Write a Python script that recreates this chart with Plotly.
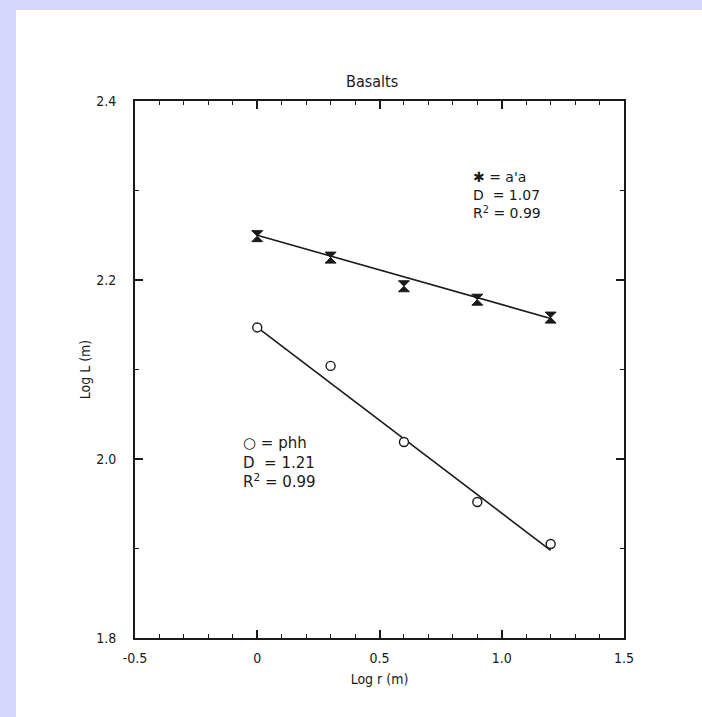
import plotly.graph_objects as go

# Data
log_r = [0.0, 0.3, 0.6, 0.9, 1.2]
aa_logL = [2.249, 2.225, 2.193, 2.178, 2.158]
phh_logL = [2.147, 2.104, 2.019, 1.952, 1.905]

fit_x = [0.0, 1.2]
aa_fit = [2.250, 2.157]
phh_fit = [2.147, 1.898]

x_tickvals = [-0.5, 0.0, 0.5, 1.0, 1.5]
x_ticktext = ["-0.5", "0", "0.5", "1.0", "1.5"]
y_tickvals = [1.8, 2.0, 2.2, 2.4]
y_ticktext = ["1.8", "2.0", "2.2", "2.4"]

FONT = "DejaVu Sans Condensed, Liberation Sans Narrow, DejaVu Sans, sans-serif"
NOTE_FONT = "DejaVu Sans, sans-serif"
INK = "#1a1a1a"
LAVENDER = "#d6d6fa"

fig = go.Figure()

fig.add_trace(go.Scatter(x=fit_x, y=aa_fit, mode="lines",
                         line=dict(color=INK, width=1.6), showlegend=False, hoverinfo="skip"))
fig.add_trace(go.Scatter(x=fit_x, y=phh_fit, mode="lines",
                         line=dict(color=INK, width=1.6), showlegend=False, hoverinfo="skip"))
fig.add_trace(go.Scatter(x=log_r, y=aa_logL, mode="markers", name="a'a",
                         marker=dict(symbol="hourglass", size=11, color=INK,
                                     line=dict(color=INK, width=1)),
                         showlegend=False))
fig.add_trace(go.Scatter(x=log_r, y=phh_logL, mode="markers", name="phh",
                         marker=dict(symbol="circle", size=9, color="white",
                                     line=dict(color=INK, width=1.4)),
                         showlegend=False))

W, H = 702, 717
L, R, T, B = 135, 78, 101, 79
pw, ph = W - L - R, H - T - B

def px_x(p):
    return (p - L) / pw

def px_y(p):
    return (H - B - p) / ph

# lavender frame bands (top and left) around the white page
fig.add_shape(type="rect", xref="paper", yref="paper", layer="below",
              x0=px_x(-20), x1=px_x(W + 20), y0=px_y(10), y1=px_y(-20),
              fillcolor=LAVENDER, line=dict(width=0))
fig.add_shape(type="rect", xref="paper", yref="paper", layer="below",
              x0=px_x(-20), x1=px_x(16), y0=px_y(H + 20), y1=px_y(-20),
              fillcolor=LAVENDER, line=dict(width=0))

fig.add_annotation(xref="paper", yref="paper", x=px_x(372), y=px_y(82),
                   xanchor="center", yanchor="middle",
                   text="Basalts", showarrow=False,
                   font=dict(family=FONT, size=16, color=INK))

fig.add_annotation(x=0.875, y=2.326, xanchor="left", yanchor="top", align="left",
                   text="✱ = a'a<br>D&nbsp;&nbsp;= 1.07<br>R<sup>2</sup> = 0.99", showarrow=False,
                   font=dict(family=NOTE_FONT, size=14, color=INK))
fig.add_annotation(x=-0.065, y=2.030, xanchor="left", yanchor="top", align="left",
                   text="○ = phh<br>D&nbsp;&nbsp;= 1.21<br>R<sup>2</sup> = 0.99", showarrow=False,
                   font=dict(family=NOTE_FONT, size=15, color=INK))

axis_common = dict(showline=True, linecolor=INK, linewidth=2, mirror="ticks",
                   ticks="inside", ticklen=8, tickwidth=1.5, tickcolor=INK,
                   showgrid=False, zeroline=False,
                   tickfont=dict(family=FONT, size=14, color=INK))

fig.update_xaxes(range=[-0.5, 1.5], tickvals=x_tickvals, ticktext=x_ticktext,
                 ticklabelstandoff=6,
                 minor=dict(ticks="inside", dtick=0.1, tick0=0, ticklen=4,
                            tickwidth=1.2, tickcolor=INK, showgrid=False),
                 title=dict(text="Log r (m)", standoff=9,
                            font=dict(family=FONT, size=14, color=INK)),
                 **axis_common)
fig.update_yaxes(range=[1.8, 2.4], tickvals=y_tickvals, ticktext=y_ticktext,
                 ticklabelstandoff=14,
                 minor=dict(ticks="inside", dtick=0.1, tick0=0, ticklen=4,
                            tickwidth=1.2, tickcolor=INK, showgrid=False),
                 title=dict(text="Log L (m)", standoff=2,
                            font=dict(family=FONT, size=14, color=INK)),
                 **axis_common)

fig.update_layout(width=W, height=H,
                  margin=dict(l=L, r=R, t=T, b=B, autoexpand=False),
                  paper_bgcolor="white", plot_bgcolor="white",
                  showlegend=False)

fig.write_html("out.html", config={"displayModeBar": False},
               post_script="document.body.style.margin='0';document.body.style.overflow='hidden';")
